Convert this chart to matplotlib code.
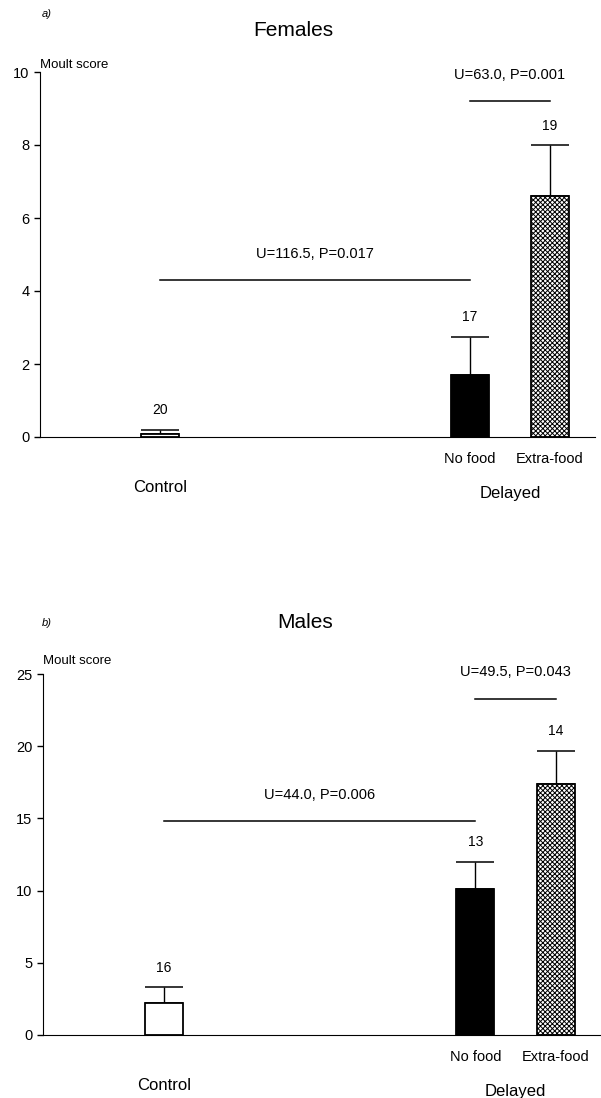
import matplotlib
matplotlib.use("Agg")
import matplotlib.pyplot as plt

plt.rcParams['font.family'] = ['Liberation Sans', 'DejaVu Sans']
plt.rcParams['hatch.linewidth'] = 0.7

groups = ["Control", "No food", "Extra-food"]

fem_mean = [0.08, 1.7, 6.6]
fem_err = [0.12, 1.05, 1.4]
fem_n = [20, 17, 19]
fem_tests = ["U=116.5, P=0.017", "U=63.0, P=0.001"]
fem_test_y = [4.3, 9.2]

male_mean = [2.2, 10.1, 17.4]
male_err = [1.1, 1.9, 2.3]
male_n = [16, 13, 14]
male_tests = ["U=44.0, P=0.006", "U=49.5, P=0.043"]
male_test_y = [14.8, 23.3]

# bar centres along the axis (layout only)
pos = [120, 430, 510]
W, H = 601, 1098


def panel(ax, mean, err, n, tests, test_y, ymax, step, label_pad):
    colors = ['white', 'black', 'white']
    hatches = ['', '', 'xxxxxxx']
    for x, m, c, h in zip(pos, mean, colors, hatches):
        ax.bar(x, m, width=38, color=c, edgecolor='black', hatch=h, linewidth=1.3, zorder=2)
    ax.errorbar(pos, mean, yerr=[[0] * 3, err], fmt='none', ecolor='black',
                elinewidth=1, capsize=13.5, capthick=1.1, zorder=1)
    for x, m, e, k in zip(pos, mean, err, n):
        ax.annotate(str(k), (x, m + e), xytext=(0, 14), textcoords='offset points',
                    ha='center', va='center', fontsize=10)

    # significance lines
    pairs = [(pos[0], pos[1]), (pos[1], pos[2])]
    for (x0, x1), lab, y in zip(pairs, tests, test_y):
        ax.plot([x0, x1], [y, y], color='black', lw=1.1)
        ax.annotate(lab, ((x0 + x1) / 2, y), xytext=(0, 19), textcoords='offset points',
                    ha='center', va='center', fontsize=10.5)

    # group labels under the axis
    for x, lab in zip(pos[1:], groups[1:]):
        ax.annotate(lab, (x, 0), xytext=(0, -16), textcoords='offset points',
                    ha='center', va='center', fontsize=10.5)
    ax.annotate("Control", (pos[0], 0), xytext=(0, -36), textcoords='offset points',
                ha='center', va='center', fontsize=12)
    ax.annotate("Delayed", ((pos[1] + pos[2]) / 2, 0), xytext=(0, -41), textcoords='offset points',
                ha='center', va='center', fontsize=12)

    ax.annotate("Moult score", (0, 1), xycoords='axes fraction', xytext=(0, label_pad),
                textcoords='offset points', ha='left', va='bottom', fontsize=9.5)

    ax.set_xlim(0, 555)
    ax.set_ylim(0, ymax)
    ax.set_yticks(range(0, ymax + 1, step))
    ax.set_xticks([])
    ax.spines['top'].set_visible(False)
    ax.spines['right'].set_visible(False)
    ax.tick_params(axis='y', direction='out', length=4, width=1, labelsize=10.5)


fig = plt.figure(figsize=(W / 100, H / 100), dpi=100)

ax1 = fig.add_axes([40 / W, 1 - 437 / H, 555 / W, 365 / H])
panel(ax1, fem_mean, fem_err, fem_n, fem_tests, fem_test_y, 10, 2, 1)
fig.text(42 / W, 1 - 14 / H, "a)", style='italic', fontsize=8, ha='left', va='center')
fig.text(293 / W, 1 - 31 / H, "Females", fontsize=15, ha='center', va='center')

ax2 = fig.add_axes([43 / W, 1 - 1035 / H, 558 / W, 361 / H])
panel(ax2, male_mean, male_err, male_n, male_tests, male_test_y, 25, 5, 5)
fig.text(42 / W, 1 - 623 / H, "b)", style='italic', fontsize=8, ha='left', va='center')
fig.text(305 / W, 1 - 622 / H, "Males", fontsize=15, ha='center', va='center')

fig.savefig("out.png", dpi=100)
